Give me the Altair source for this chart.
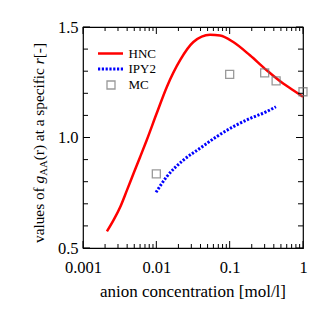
import altair as alt
import pandas as pd

FONT = "Liberation Serif"

# HNC curve (red solid)
hnc_x = [0.00212, 0.00263, 0.00324, 0.00398, 0.0049, 0.00603, 0.00741, 0.01, 0.0139, 0.0211, 0.032, 0.054, 0.0741, 0.112, 0.189, 0.318, 0.537, 0.735, 1.0]
hnc_y = [0.575, 0.628, 0.688, 0.762, 0.838, 0.913, 0.989, 1.105, 1.229, 1.35, 1.432, 1.465, 1.462, 1.432, 1.372, 1.305, 1.244, 1.214, 1.184]

# IPY2 curve (blue dotted)
ipy_x = [0.0099, 0.0139, 0.0234, 0.0394, 0.0665, 0.112, 0.189, 0.318, 0.427]
ipy_y = [0.752, 0.823, 0.898, 0.951, 1.004, 1.049, 1.086, 1.117, 1.139]

# MC points (open squares)
mc_x = [0.01, 0.1, 0.3, 0.43, 1.0]
mc_y = [0.835, 1.286, 1.292, 1.256, 1.207]

x_major = [0.001, 0.01, 0.1, 1.0]
x_minor = [0.002, 0.003, 0.004, 0.005, 0.006, 0.007, 0.008, 0.009,
           0.02, 0.03, 0.04, 0.05, 0.06, 0.07, 0.08, 0.09,
           0.2, 0.3, 0.4, 0.5, 0.6, 0.7, 0.8, 0.9]
y_major = [0.5, 1.0, 1.5]
y_minor = [0.6, 0.7, 0.8, 0.9, 1.1, 1.2, 1.3, 1.4]

W, H = 220, 221

xs = alt.Scale(type="log", domain=[0.001, 1], nice=False)
ys = alt.Scale(domain=[0.5, 1.5], nice=False, zero=False)
AX = alt.Axis(values=x_major, format="~g", title=None, ticks=False, domain=False, grid=False,
              labelFont=FONT, labelFontSize=16.5, labelColor="black", labelPadding=11, labelFlush=False)
AY = alt.Axis(values=y_major, format=".1f", title=None, ticks=False, domain=False, grid=False,
              labelFont=FONT, labelFontSize=16.5, labelColor="black", labelPadding=5)

def X(f="x"):
    return alt.X(f + ":Q", scale=xs, axis=AX)

def Y(f="y"):
    return alt.Y(f + ":Q", scale=ys, axis=AY)

hnc_df = pd.DataFrame({"x": hnc_x, "y": hnc_y, "o": range(len(hnc_x))})
ipy_df = pd.DataFrame({"x": ipy_x, "y": ipy_y, "o": range(len(ipy_x))})
mc_df = pd.DataFrame({"x": mc_x, "y": mc_y})

hnc = alt.Chart(hnc_df).mark_line(color="#ff0000", strokeWidth=2.5, interpolate="monotone").encode(
    x=X(), y=Y(), order="o:Q")

ipy = alt.Chart(ipy_df).mark_line(color="#0000ff", strokeWidth=3, strokeDash=[2.2, 1.6], interpolate="monotone").encode(
    x=X(), y=Y(), order="o:Q")

mc = alt.Chart(mc_df).mark_point(shape="square", size=64, filled=False, color="#707070", strokeWidth=1.3).encode(
    x=X(), y=Y())

def xticks(vals, length):
    df = pd.DataFrame({"x": vals})
    b = alt.Chart(df).mark_rule(color="black", strokeWidth=1).encode(
        x=X(), y=alt.value(H), y2=alt.value(H - length))
    t = alt.Chart(df).mark_rule(color="black", strokeWidth=1).encode(
        x=X(), y=alt.value(0), y2=alt.value(length))
    return [b, t]

def yticks(vals, length):
    df = pd.DataFrame({"y": vals})
    l = alt.Chart(df).mark_rule(color="black", strokeWidth=1).encode(
        y=Y(), x=alt.value(0), x2=alt.value(length))
    r = alt.Chart(df).mark_rule(color="black", strokeWidth=1).encode(
        y=Y(), x=alt.value(W), x2=alt.value(W - length))
    return [l, r]

ticks = xticks(x_major, 7) + xticks(x_minor, 4) + yticks(y_major, 7) + yticks(y_minor, 5)

one = pd.DataFrame({"a": [0]})

# legend
leg_items = []
leg_items.append(alt.Chart(one).mark_rule(color="#ff0000", strokeWidth=2.5).encode(
    x=alt.value(15), x2=alt.value(40), y=alt.value(26.5)))
leg_items.append(alt.Chart(one).mark_rule(color="#0000ff", strokeWidth=3, strokeDash=[2.2, 1.6]).encode(
    x=alt.value(15), x2=alt.value(40), y=alt.value(42)))
leg_items.append(alt.Chart(one).mark_point(shape="square", size=64, filled=False, color="#707070", strokeWidth=1.3).encode(
    x=alt.value(28), y=alt.value(58)))
for label, yy in [("HNC", 26.5), ("IPY2", 42), ("MC", 58)]:
    leg_items.append(alt.Chart(one).mark_text(text=label, font=FONT, fontSize=13, align="left",
                                              baseline="middle", color="black").encode(
        x=alt.value(45.5), y=alt.value(yy)))

# x title
xtitle = alt.Chart(one).mark_text(text="anion concentration [mol/l]", font=FONT, fontSize=17,
                                  align="center", baseline="alphabetic", color="black").encode(
    x=alt.value(110), y=alt.value(270))

# y title, composed from pieces (rotated, reading upward)
S = 15.3
SUB = 10.8
XT = -39.5
y0 = 216.0
pieces = [
    ("values of ", S, "normal", 0, 3.888 * S),
    ("g", S, "italic", 0, 0.5 * S),
    ("AA", SUB, "normal", 3.5, 1.444 * SUB),
    ("(r) at a specific ", S, "normal", 0, 6.275 * S),
    ("r", S, "italic", 0, 0.389 * S),
    (" [-]", S, "normal", 0, 1.249 * S),
]
ytitle = []
cur = y0
for txt, fs, style, dx, w in pieces:
    ytitle.append(alt.Chart(one).mark_text(text=txt, font=FONT, fontSize=fs, fontStyle=style,
                                           angle=270, align="left", baseline="alphabetic",
                                           color="black").encode(
        x=alt.value(XT + dx), y=alt.value(cur)))
    cur -= w

chart = alt.layer(hnc, ipy, mc, *ticks, *leg_items, xtitle, *ytitle).properties(
    width=W, height=H, autosize="none",
    padding={"left": 75, "top": 19, "right": 19, "bottom": 60},
    background="white",
).configure_view(stroke="black", strokeWidth=1.2)

chart.save("out.html", embed_options={"renderer": "svg", "actions": False})
